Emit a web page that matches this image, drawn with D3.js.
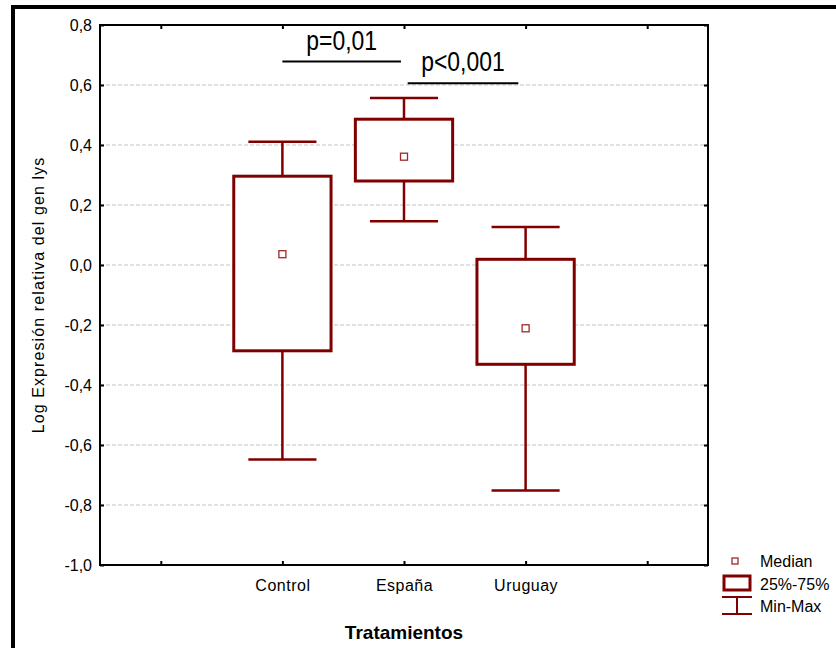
<!DOCTYPE html>
<html>
<head>
<meta charset="utf-8">
<script src="https://cdn.jsdelivr.net/npm/d3@7"></script>
<style>
  html, body { margin: 0; padding: 0; background: #fff; }
  svg { display: block; font-family: "Liberation Sans", Arial, sans-serif; }
</style>
</head>
<body>
<svg id="chart" width="836" height="648"></svg>
<script>
// ---- data ----
const categories = ["Control", "España", "Uruguay"];
const catPositions = [2, 3, 4];
const mins    = [-0.648, 0.146, -0.752];
const q1s     = [-0.286, 0.280, -0.331];
const medians = [0.036, 0.361, -0.211];
const q3s     = [0.296, 0.486, 0.019];
const maxs    = [0.411, 0.557, 0.127];
const yTicks = [-1.0, -0.8, -0.6, -0.4, -0.2, 0.0, 0.2, 0.4, 0.6, 0.8];
const xTicks = [1, 2, 3, 4, 5];
const pLabels = ["p=0,01", "p<0,001"];
const pFrom   = [2.0, 3.03];
const pTo     = [2.975, 3.94];
const pLevel  = [0.678, 0.606];
const legendLabels = ["Median", "25%-75%", "Min-Max"];
const yTitle = "Log Expresión relativa del gen lys";
const xTitle = "Tratamientos";

// ---- layout ----
const svg = d3.select("#chart");
const pLeft = 100, pRight = 708, pTop = 25, pBottom = 565;
const x = d3.scaleLinear().domain([0.5, 5.5]).range([pLeft, pRight]);
const y = d3.scaleLinear().domain([-1.0, 0.8]).range([pBottom, pTop]);
const band = x(2) - x(1);
const boxColor = "#800000";
const loc = d3.formatLocale({decimal: ",", thousands: ".", grouping: [3], currency: ["", ""], minus: "-"});
const fmt = loc.format(".1f");

// outer frame
svg.append("rect").attr("x", 13).attr("y", 7).attr("width", 900).attr("height", 900)
  .attr("fill", "none").attr("stroke", "#000").attr("stroke-width", 4);

// gridlines
svg.append("g").selectAll("line").data(yTicks.filter(v => v > -1 && v < 0.8)).join("line")
  .attr("x1", pLeft).attr("x2", pRight)
  .attr("y1", d => y(d)).attr("y2", d => y(d))
  .attr("stroke", "#c4c4c4").attr("stroke-width", 1).attr("stroke-dasharray", "4,2");

// axes
const gL = svg.append("g").attr("transform", `translate(${pLeft},0)`)
  .call(d3.axisLeft(y).tickValues(yTicks).tickFormat(fmt).tickSize(-4).tickSizeOuter(0).tickPadding(8));
const gR = svg.append("g").attr("transform", `translate(${pRight},0)`)
  .call(d3.axisRight(y).tickValues(yTicks).tickFormat("").tickSize(-4).tickSizeOuter(0));
const gB = svg.append("g").attr("transform", `translate(0,${pBottom})`)
  .call(d3.axisBottom(x).tickValues(xTicks)
    .tickFormat(d => { const i = catPositions.indexOf(d); return i >= 0 ? categories[i] : ""; })
    .tickSize(-4).tickSizeOuter(0).tickPadding(15));
const gT = svg.append("g").attr("transform", `translate(0,${pTop})`)
  .call(d3.axisTop(x).tickValues(xTicks).tickFormat("").tickSize(-4).tickSizeOuter(0));
[gL, gR, gB, gT].forEach(g => {
  g.select(".domain").remove();
  g.selectAll(".tick line").attr("stroke", "#000").attr("stroke-width", 2);
  g.selectAll(".tick text").attr("fill", "#000").style("font-size", "16px")
    .style("font-family", "'Liberation Sans', Arial, sans-serif");
});
gB.selectAll(".tick text").style("letter-spacing", "0.5px");

// plot frame
svg.append("rect").attr("x", pLeft).attr("y", pTop).attr("width", pRight - pLeft).attr("height", pBottom - pTop)
  .attr("fill", "none").attr("stroke", "#000").attr("stroke-width", 2);

// boxes
const g = svg.append("g");
categories.forEach((c, i) => {
  const cx = x(catPositions[i]);
  const bw = band * 0.8, cw = band * 0.56;
  g.append("line").attr("x1", cx).attr("x2", cx).attr("y1", y(maxs[i])).attr("y2", y(q3s[i]))
    .attr("stroke", boxColor).attr("stroke-width", 2.5);
  g.append("line").attr("x1", cx).attr("x2", cx).attr("y1", y(q1s[i])).attr("y2", y(mins[i]))
    .attr("stroke", boxColor).attr("stroke-width", 2.5);
  g.append("line").attr("x1", cx - cw / 2).attr("x2", cx + cw / 2).attr("y1", y(maxs[i])).attr("y2", y(maxs[i]))
    .attr("stroke", boxColor).attr("stroke-width", 2.5);
  g.append("line").attr("x1", cx - cw / 2).attr("x2", cx + cw / 2).attr("y1", y(mins[i])).attr("y2", y(mins[i]))
    .attr("stroke", boxColor).attr("stroke-width", 2.5);
  g.append("rect").attr("x", cx - bw / 2).attr("y", y(q3s[i])).attr("width", bw).attr("height", y(q1s[i]) - y(q3s[i]))
    .attr("fill", "#fff").attr("stroke", boxColor).attr("stroke-width", 3);
  g.append("rect").attr("x", cx - 3.5).attr("y", y(medians[i]) - 3.5).attr("width", 7).attr("height", 7)
    .attr("fill", "#fff").attr("stroke", "#a02828").attr("stroke-width", 1.3);
});

// p-value annotations
pLabels.forEach((t, i) => {
  const x1 = x(pFrom[i]), x2 = x(pTo[i]), yy = y(pLevel[i]);
  svg.append("line").attr("x1", x1).attr("x2", x2).attr("y1", yy).attr("y2", yy)
    .attr("stroke", "#000").attr("stroke-width", 2);
  svg.append("text").attr("transform", `translate(${(x1 + x2) / 2},${yy - 12}) scale(0.85,1)`)
    .attr("text-anchor", "middle").style("font-size", "27px").attr("fill", "#000").text(t);
});

// axis titles
svg.append("text").attr("transform", `translate(44,295) rotate(-90)`)
  .attr("text-anchor", "middle").style("font-size", "16px").style("letter-spacing", "1.1px")
  .attr("fill", "#000").text(yTitle);
svg.append("text").attr("x", (pLeft + pRight) / 2).attr("y", 639)
  .attr("text-anchor", "middle").style("font-size", "19px").style("font-weight", "bold")
  .attr("fill", "#000").text(xTitle);

// legend
const lg = svg.append("g");
lg.append("rect").attr("x", 732).attr("y", 558).attr("width", 6).attr("height", 6)
  .attr("fill", "#fff").attr("stroke", "#a02828").attr("stroke-width", 1.3);
lg.append("rect").attr("x", 724).attr("y", 576).attr("width", 26).attr("height", 14)
  .attr("fill", "#fff").attr("stroke", boxColor).attr("stroke-width", 3);
lg.append("line").attr("x1", 722).attr("x2", 752).attr("y1", 597).attr("y2", 597).attr("stroke", boxColor).attr("stroke-width", 2);
lg.append("line").attr("x1", 722).attr("x2", 752).attr("y1", 614).attr("y2", 614).attr("stroke", boxColor).attr("stroke-width", 2);
lg.append("line").attr("x1", 737).attr("x2", 737).attr("y1", 597).attr("y2", 614).attr("stroke", boxColor).attr("stroke-width", 2);
lg.selectAll("text").data(legendLabels).join("text")
  .attr("x", 760).attr("y", (d, i) => [567, 589.5, 611.5][i])
  .style("font-size", "16px").attr("fill", "#000").text(d => d);
</script>
</body>
</html>
